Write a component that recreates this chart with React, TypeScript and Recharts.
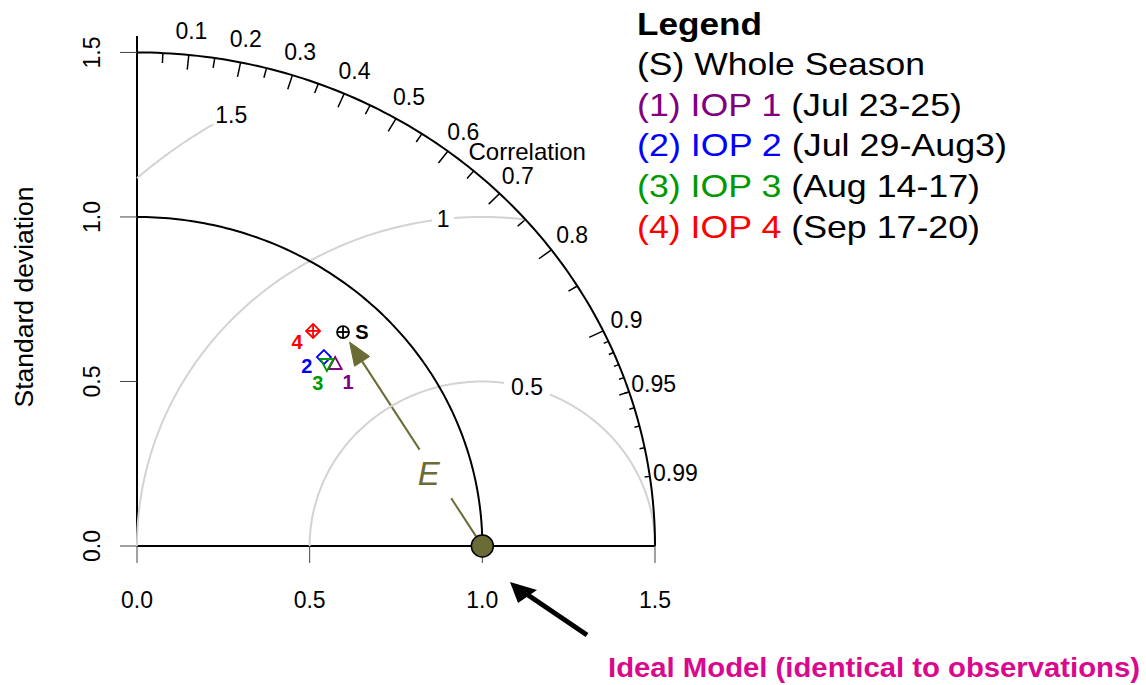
import React from 'react';
import { ScatterChart, Scatter, XAxis, YAxis, ReferenceLine, ReferenceDot } from 'recharts';

// Taylor diagram: radius = standard deviation, angle = acos(correlation)
const MAX_SD = 1.5;
const AXIS_TICKS = [0, 0.5, 1, 1.5];
const SD_ARCS = [1, 1.5];
const RMS_LEVELS = [0.5, 1, 1.5];
const RMS_LABEL_ANGLES = [75, 96.5, 119];
const CORR_LABELS = [0.1, 0.2, 0.3, 0.4, 0.5, 0.6, 0.7, 0.8, 0.9, 0.95, 0.99];
const CORR_BIG_TICKS = [0.1, 0.2, 0.3, 0.4, 0.5, 0.6, 0.7, 0.8, 0.9];
const CORR_MED_TICKS = [0.05, 0.15, 0.25, 0.35, 0.45, 0.55, 0.65, 0.75, 0.85, 0.95];
const CORR_SMALL_TICKS = [0.91, 0.92, 0.93, 0.94, 0.95, 0.96, 0.97, 0.98, 0.99];

const MODEL_IDS = ['S', '1', '2', '3', '4'];
const MODEL_SD = [0.8825, 0.797, 0.789, 0.780, 0.829];
const MODEL_CORR = [0.676, 0.720, 0.686, 0.705, 0.615];
const MODEL_COLORS = ['#000000', '#800080', '#0000ff', '#009900', '#ff0000'];
const MODEL_SYMBOLS = ['circlePlus', 'triangle', 'diamond', 'triangleDown', 'diamondPlus'];

const REFERENCE_SD = 1;
const REFERENCE_CORR = 1;

const LEGEND_TITLE = 'Legend';
const LEGEND_TAGS = ['(S) Whole Season', '(1) IOP 1', '(2) IOP 2', '(3) IOP 3', '(4) IOP 4'];
const LEGEND_DATES = ['', ' (Jul 23-25)', ' (Jul 29-Aug3)', ' (Aug 14-17)', ' (Sep 17-20)'];
const LEGEND_WIDTHS = [288, 325, 370, 343, 343];
const CALLOUT = 'Ideal Model (identical to observations)';

const OLIVE = '#6b6b35';
const FONT = '"Liberation Sans", Arial, Helvetica, sans-serif';

const polar = (sd: number, corr: number) => {
  const a = Math.acos(corr);
  return { x: sd * Math.cos(a), y: sd * Math.sin(a) };
};

// arc of radius r around (cx, 0), angles in degrees
const arc = (cx: number, r: number, from: number, to: number) => {
  const pts = [];
  const n = 120;
  for (let i = 0; i <= n; i++) {
    const t = ((from + ((to - from) * i) / n) * Math.PI) / 180;
    pts.push({ x: cx + r * Math.cos(t), y: Math.max(0, r * Math.sin(t)) });
  }
  return pts;
};

// centred-RMS contour clipped to the quarter disc of radius MAX_SD
const rmsArc = (e: number) => {
  const start = 1 + e <= MAX_SD ? 0 : (Math.acos((MAX_SD * MAX_SD - e * e + 1) / 2 - 1) * 180) / Math.PI;
  const end = e <= 1 ? 180 : (Math.acos(-1 / e) * 180) / Math.PI;
  return arc(1, e, start, end);
};

const models = MODEL_IDS.map((id, i) => ({
  id,
  ...polar(MODEL_SD[i], MODEL_CORR[i]),
  color: MODEL_COLORS[i],
  symbol: MODEL_SYMBOLS[i],
}));
const reference = polar(REFERENCE_SD, REFERENCE_CORR);
const whole = models[0];

const LABEL_OFFSET: Record<string, [number, number]> = {
  S: [19, 7],
  '1': [13, 25],
  '2': [-17, 16],
  '3': [-9, 26],
  '4': [-16, 18],
};

const Nothing = () => <g />;

const ModelMarker = (props: any) => {
  const { cx, cy, payload } = props;
  const c = payload.color;
  const s = { fill: 'none', stroke: c, strokeWidth: 1.8 };
  let mark;
  switch (payload.symbol) {
    case 'circlePlus':
      mark = (
        <g {...s}>
          <circle cx={cx} cy={cy} r={6} />
          <line x1={cx - 6} y1={cy} x2={cx + 6} y2={cy} />
          <line x1={cx} y1={cy - 6} x2={cx} y2={cy + 6} />
        </g>
      );
      break;
    case 'triangle':
      mark = <polygon {...s} points={`${cx},${cy - 7} ${cx - 6.5},${cy + 5} ${cx + 6.5},${cy + 5}`} />;
      break;
    case 'triangleDown':
      mark = <polygon {...s} points={`${cx},${cy + 7} ${cx - 6.5},${cy - 5} ${cx + 6.5},${cy - 5}`} />;
      break;
    case 'diamond':
      mark = <polygon {...s} points={`${cx},${cy - 7} ${cx + 7},${cy} ${cx},${cy + 7} ${cx - 7},${cy}`} />;
      break;
    default:
      mark = (
        <g {...s}>
          <polygon points={`${cx},${cy - 7} ${cx + 7},${cy} ${cx},${cy + 7} ${cx - 7},${cy}`} />
          <line x1={cx - 7} y1={cy} x2={cx + 7} y2={cy} />
          <line x1={cx} y1={cy - 7} x2={cx} y2={cy + 7} />
        </g>
      );
  }
  const [dx, dy] = LABEL_OFFSET[payload.id];
  return (
    <g>
      {mark}
      <text x={cx + dx} y={cy + dy} textAnchor="middle" fontFamily={FONT} fontWeight="bold" fontSize={20} fill={c}>
        {payload.id}
      </text>
    </g>
  );
};

const YTick = (props: any) => {
  const { x, y, payload } = props;
  return (
    <text x={x} y={y} transform={`rotate(-90 ${x} ${y})`} textAnchor="middle" fontFamily={FONT} fontSize={23} fill="#000">
      {Number(payload.value).toFixed(1)}
    </text>
  );
};

// E arrow from the reference point towards the whole-season point, broken around its label
const ErrorArrow = (props: any) => {
  const { x1, y1, x2, y2 } = props;
  const dx = x2 - x1;
  const dy = y2 - y1;
  const len = Math.hypot(dx, dy);
  const ux = dx / len;
  const uy = dy / len;
  const at = (d: number) => [x1 + ux * d, y1 + uy * d];
  const tip = at(len - 12);
  const base = at(len - 35);
  const [a0x, a0y] = at(10);
  const [a1x, a1y] = at(57);
  const [b0x, b0y] = at(115);
  const [ex, ey] = at(87);
  return (
    <g>
      <line x1={a0x} y1={a0y} x2={a1x} y2={a1y} stroke={OLIVE} strokeWidth={2} />
      <line x1={b0x} y1={b0y} x2={base[0]} y2={base[1]} stroke={OLIVE} strokeWidth={2} />
      <polygon
        points={`${tip[0]},${tip[1]} ${base[0] - uy * 9},${base[1] + ux * 9} ${base[0] + uy * 9},${base[1] - ux * 9}`}
        fill={OLIVE}
        stroke={OLIVE}
      />
      <text x={ex - 6} y={ey} dy="0.35em" textAnchor="middle" fontFamily={FONT} fontStyle="italic" fontSize={33} fill={OLIVE}>
        E
      </text>
    </g>
  );
};

const corrPoint = (c: number, r: number) => polar(r, c);

export default function App() {
  const W = 1146;
  const H = 685;
  return (
    <div style={{ position: 'absolute', left: 0, top: 0, width: W, height: H, background: '#fff' }}>
      <ScatterChart width={W} height={H} margin={{ top: 36, right: 491, bottom: 79, left: 57 }}>
        <XAxis
          type="number"
          dataKey="x"
          domain={[0, 1.5]}
          ticks={AXIS_TICKS}
          tickFormatter={(v: number) => v.toFixed(1)}
          height={60}
          tickSize={17}
          tickMargin={29}
          axisLine={{ stroke: '#000', strokeWidth: 2 }}
          tickLine={{ stroke: '#444', strokeWidth: 1 }}
          tick={{ fontSize: 23, fontFamily: FONT, fill: '#000' }}
        />
        <YAxis
          type="number"
          dataKey="y"
          domain={[0, 1.55]}
          ticks={AXIS_TICKS}
          width={80}
          tickSize={17}
          tickMargin={20}
          axisLine={{ stroke: '#000', strokeWidth: 2 }}
          tickLine={{ stroke: '#444', strokeWidth: 1 }}
          tick={<YTick />}
        />

        {RMS_LEVELS.map((e) => (
          <Scatter
            key={`rms-${e}`}
            data={rmsArc(e)}
            line={{ stroke: '#d3d3d3', strokeWidth: 2 }}
            shape={<Nothing />}
            isAnimationActive={false}
          />
        ))}
        {SD_ARCS.map((r) => (
          <Scatter
            key={`sd-${r}`}
            data={arc(0, r, 0, 90)}
            line={{ stroke: '#000', strokeWidth: 2 }}
            shape={<Nothing />}
            isAnimationActive={false}
          />
        ))}

        {RMS_LEVELS.map((e, i) => {
          const t = (RMS_LABEL_ANGLES[i] * Math.PI) / 180;
          const label = String(e);
          return (
            <ReferenceDot
              key={`rms-label-${e}`}
              x={1 + e * Math.cos(t)}
              y={e * Math.sin(t)}
              ifOverflow="visible"
              shape={(p: any) => (
                <g>
                  <rect x={p.cx - (label.length * 12 + 10) / 2} y={p.cy - 10} width={label.length * 12 + 10} height={20} fill="#fff" />
                  <text x={p.cx} y={p.cy} dy="0.36em" textAnchor="middle" fontFamily={FONT} fontSize={23} fill="#000">
                    {label}
                  </text>
                </g>
              )}
            />
          );
        })}

        {CORR_BIG_TICKS.map((c) => (
          <ReferenceLine key={`big-${c}`} segment={[corrPoint(c, MAX_SD), corrPoint(c, MAX_SD * 0.97)]} stroke="#000" strokeWidth={1.5} ifOverflow="visible" />
        ))}
        {CORR_MED_TICKS.map((c) => (
          <ReferenceLine key={`med-${c}`} segment={[corrPoint(c, MAX_SD), corrPoint(c, MAX_SD * 0.98)]} stroke="#000" strokeWidth={1.5} ifOverflow="visible" />
        ))}
        {CORR_SMALL_TICKS.map((c) => (
          <ReferenceLine key={`sml-${c}`} segment={[corrPoint(c, MAX_SD), corrPoint(c, MAX_SD * 0.99)]} stroke="#000" strokeWidth={1.5} ifOverflow="visible" />
        ))}
        {CORR_LABELS.map((c) => {
          const p = corrPoint(c, MAX_SD * 1.05);
          return (
            <ReferenceDot
              key={`corr-${c}`}
              x={p.x}
              y={p.y}
              ifOverflow="visible"
              shape={(q: any) => (
                <text x={q.cx} y={q.cy} dy="0.36em" textAnchor="middle" fontFamily={FONT} fontSize={23} fill="#000">
                  {String(c)}
                </text>
              )}
            />
          );
        })}
        <ReferenceDot
          x={1.13}
          y={1.2}
          ifOverflow="visible"
          shape={(q: any) => (
            <text x={q.cx} y={q.cy} dy="0.36em" textAnchor="middle" fontFamily={FONT} fontSize={24} fill="#000">
              Correlation
            </text>
          )}
        />

        <ReferenceLine segment={[reference, { x: whole.x, y: whole.y }]} ifOverflow="visible" shape={<ErrorArrow />} />
        <ReferenceDot x={reference.x} y={reference.y} r={11} fill={OLIVE} stroke="#000" strokeWidth={1.5} ifOverflow="visible" />

        <Scatter data={models} shape={<ModelMarker />} isAnimationActive={false} />
      </ScatterChart>

      <svg width={W} height={H} style={{ position: 'absolute', left: 0, top: 0, pointerEvents: 'none' }}>
        <text x={33} y={297} transform="rotate(-90 33 297)" textAnchor="middle" fontFamily={FONT} fontSize={26.5} fill="#000">
          Standard deviation
        </text>

        <text x={637} y={35} fontFamily={FONT} fontWeight="bold" fontSize={32} fill="#000" textLength={125} lengthAdjust="spacingAndGlyphs">
          {LEGEND_TITLE}
        </text>
        {LEGEND_TAGS.map((tag, i) => (
          <text
            key={tag}
            x={637}
            y={75 + i * 40.7}
            fontFamily={FONT}
            fontSize={32}
            textLength={LEGEND_WIDTHS[i]}
            lengthAdjust="spacingAndGlyphs"
            style={{ whiteSpace: 'pre' }}
          >
            <tspan fill={MODEL_COLORS[i]}>{tag}</tspan>
            {LEGEND_DATES[i] && <tspan fill="#000">{LEGEND_DATES[i]}</tspan>}
          </text>
        ))}

        <line x1={587} y1={635} x2={525} y2={593} stroke="#000" strokeWidth={5} />
        <polygon points="510,582 518,603 537,590" fill="#000" />

        <text x={608} y={677} fontFamily={FONT} fontWeight="bold" fontSize={28} fill="#d9088c" textLength={532} lengthAdjust="spacingAndGlyphs">
          {CALLOUT}
        </text>
      </svg>
    </div>
  );
}
